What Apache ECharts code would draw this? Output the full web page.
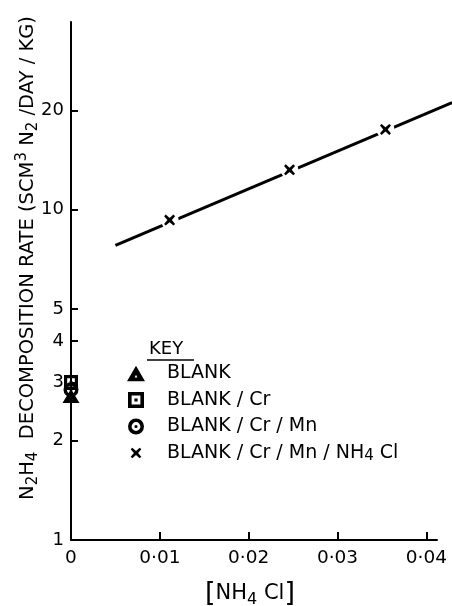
<!DOCTYPE html>
<html>
<head>
<meta charset="utf-8">
<script src="https://cdn.jsdelivr.net/npm/echarts@6/dist/echarts.min.js"></script>
<style>html,body{margin:0;padding:0;background:#fff}#c{width:452px;height:606px}</style>
</head>
<body>
<div id="c"></div>
<script>
// ---- data ----
const yTicks = [1, 2, 3, 4, 5, 10, 20];
const xTicks = [0, 0.01, 0.02, 0.03, 0.04];
const seriesNames = ['BLANK', 'BLANK/Cr', 'BLANK/Cr/Mn', 'BLANK/Cr/Mn/NH4Cl'];
const blankX = [0];
const blankY = [2.73];
const blankCrX = [0];
const blankCrY = [3.0];
const blankCrMnX = [0];
const blankCrMnY = [2.85];
const nh4clX = [0.0111, 0.0246, 0.0354];
const nh4clY = [9.3, 13.2, 17.5];
const fitX = [0.005, 0.0429];
const fitY = [7.8, 21.1];

const pairs = (xs, ys) => xs.map((x, i) => [x, ys[i]]);

const INK = '#000';
const FONT = 'DejaVu Sans';
const TRI = 'path://M10,0 L20,17 L0,17 Z M10,10 L8.5,13 L11.5,13 Z';
const SQR = 'path://M0,0 L20,0 L20,20 L0,20 Z M4.5,4.5 L4.5,15.5 L15.5,15.5 L15.5,4.5 Z M8,8 L12,8 L12,12 L8,12 Z';
const CIR = 'path://M10,0 A10,10 0 1 1 10,20 A10,10 0 1 1 10,0 Z M10,4.5 A5.5,5.5 0 1 0 10,15.5 A5.5,5.5 0 1 0 10,4.5 Z M10,8 A2,2 0 1 1 10,12 A2,2 0 1 1 10,8 Z';
const CRS = 'path://M3,0 L10,6 L17,0 L20,3 L14,10 L20,17 L17,20 L10,14 L3,20 L0,17 L6,10 L0,3 Z';
const CRS_KEY = 'path://M-7,-5 M27,25 M3,0 L10,6 L17,0 L20,3 L14,10 L20,17 L17,20 L10,14 L3,20 L0,17 L6,10 L0,3 Z';

const X_MAX = 0.0412;       // end of the drawn x axis
const X_MAX_WIDE = 0.04289; // same scale, reaching the right page edge (for the fitted line)
const Y_MIN = 1, Y_MAX = 37;

const chart = echarts.init(document.getElementById('c'), null, {renderer: 'canvas'});
chart.setOption({
  backgroundColor: '#fff',
  animation: false,
  textStyle: {fontFamily: FONT, color: INK},
  grid: [
    {left: 71, right: 15, top: 22, bottom: 66, outerBoundsMode: 'none', containLabel: false},
    {left: 71, right: 0, top: 22, bottom: 66, outerBoundsMode: 'none', containLabel: false}
  ],
  xAxis: [{
    type: 'value', min: 0, max: X_MAX, gridIndex: 0,
    axisLine: {lineStyle: {color: INK, width: 2}},
    axisTick: {inside: true, length: 8, customValues: xTicks, lineStyle: {color: INK, width: 2}},
    splitLine: {show: false},
    axisLabel: {
      customValues: xTicks, margin: 9, fontSize: 18.5, color: INK, fontFamily: FONT,
      formatter: v => v === 0 ? '0' : v.toFixed(2).replace('.', '·')
    },
    name: '{b|[}{n|NH}{s|4}{n| Cl}{b|]}',
    nameLocation: 'middle', nameGap: 40,
    nameTextStyle: {
      fontSize: 21, color: INK, fontFamily: FONT, lineHeight: 28, padding: [0, 8, 0, 0],
      rich: {
        b: {fontSize: 27, color: INK, fontFamily: FONT, lineHeight: 28},
        n: {fontSize: 21, color: INK, fontFamily: FONT, lineHeight: 28},
        s: {fontSize: 16, color: INK, fontFamily: FONT, verticalAlign: 'bottom', lineHeight: 16}
      }
    }
  }, {
    type: 'value', min: 0, max: X_MAX_WIDE, gridIndex: 1, show: false
  }],
  yAxis: [{
    type: 'log', min: Y_MIN, max: Y_MAX, logBase: 10, gridIndex: 0,
    axisLine: {lineStyle: {color: INK, width: 2}},
    axisTick: {inside: true, length: 7, customValues: yTicks, lineStyle: {color: INK, width: 2}},
    minorTick: {show: false},
    splitLine: {show: false},
    axisLabel: {customValues: yTicks, margin: 7, fontSize: 18, color: INK, fontFamily: FONT},
    name: '{n|N}{s|2}{n|H}{s|4}{n|  DECOMPOSITION RATE (SCM}{p|3}{n| N}{s|2}{n| /DAY / KG)}',
    nameLocation: 'middle', nameGap: 30, nameRotate: 90, nameMoveOverlap: false,
    nameTextStyle: {
      fontSize: 19.5, color: INK, fontFamily: FONT, lineHeight: 26,
      padding: [0, 0, 0, 46],
      rich: {
        n: {fontSize: 19.5, color: INK, fontFamily: FONT, lineHeight: 26},
        s: {fontSize: 15, color: INK, fontFamily: FONT, verticalAlign: 'bottom', lineHeight: 15},
        p: {fontSize: 15, color: INK, fontFamily: FONT, verticalAlign: 'top', lineHeight: 15}
      }
    }
  }, {
    type: 'log', min: Y_MIN, max: Y_MAX, logBase: 10, gridIndex: 1, show: false
  }],
  legend: {
    orient: 'vertical', left: 122, top: 359,
    itemWidth: 18, itemHeight: 16, itemGap: 7.5,
    data: [
      {name: seriesNames[0], icon: TRI},
      {name: seriesNames[1], icon: SQR},
      {name: seriesNames[2], icon: CIR},
      {name: seriesNames[3], icon: CRS_KEY}
    ],
    formatter: n => {
      const parts = n.split('/').map(p => p === 'NH4Cl' ? '{t|NH}{s|4}{t| Cl}' : '{t|' + p + '}');
      return parts.join('{t| / }');
    },
    textStyle: {
      fontSize: 19, color: INK, fontFamily: FONT, padding: [0, 0, 0, 17],
      rich: {
        t: {fontSize: 19, color: INK, fontFamily: FONT, lineHeight: 22},
        s: {fontSize: 15, color: INK, fontFamily: FONT, verticalAlign: 'bottom', lineHeight: 15}
      }
    },
    selectedMode: false
  },
  graphic: [
    {type: 'text', left: 149, top: 340, style: {text: 'KEY', font: '18px "DejaVu Sans"', fill: INK}},
    {type: 'line', shape: {x1: 147, y1: 360, x2: 194, y2: 360}, style: {stroke: INK, lineWidth: 1.5}}
  ],
  series: [
    {
      name: 'fit', type: 'line', xAxisIndex: 1, yAxisIndex: 1, data: pairs(fitX, fitY),
      symbol: 'none', lineStyle: {color: INK, width: 3}, z: 1, silent: true
    },
    {
      name: 'gap', type: 'scatter', data: pairs(nh4clX, nh4clY),
      symbol: 'circle', symbolSize: 18, itemStyle: {color: '#fff', opacity: 1}, z: 2, silent: true
    },
    {
      name: seriesNames[3], type: 'scatter', data: pairs(nh4clX, nh4clY),
      symbol: CRS, symbolSize: 11, itemStyle: {color: INK, opacity: 1}, z: 3
    },
    {
      name: seriesNames[2], type: 'scatter', data: pairs(blankCrMnX, blankCrMnY), clip: false,
      symbol: CIR, symbolSize: 15, itemStyle: {color: INK, opacity: 1}, z: 3
    },
    {
      name: seriesNames[0], type: 'scatter', data: pairs(blankX, blankY), clip: false,
      symbol: TRI, symbolSize: [17, 14], itemStyle: {color: INK, opacity: 1}, z: 4
    },
    {
      name: seriesNames[1], type: 'scatter', data: pairs(blankCrX, blankCrY), clip: false,
      symbol: SQR, symbolSize: [14, 15], itemStyle: {color: INK, opacity: 1}, z: 5
    }
  ]
});
</script>
</body>
</html>
